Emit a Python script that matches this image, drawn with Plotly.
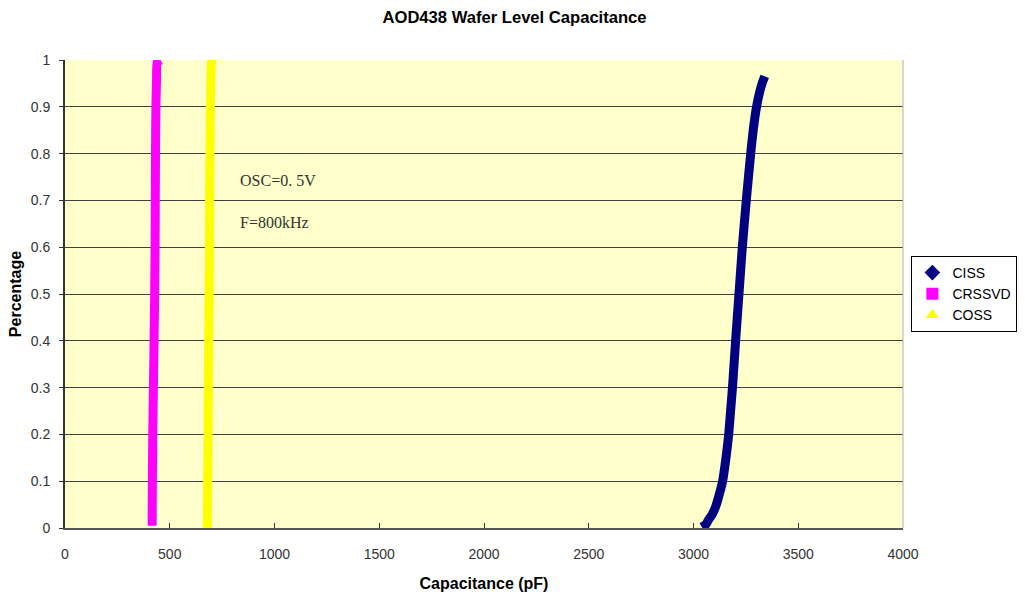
import plotly.graph_objects as go

# CISS
ciss_x = [3040, 3060, 3071, 3088, 3106, 3122, 3139, 3155, 3168, 3177, 3186, 3201,
          3217, 3233, 3252, 3273, 3285, 3301, 3315, 3329, 3340]
ciss_y = [0.002, 0.008, 0.017, 0.028, 0.046, 0.07, 0.10, 0.15, 0.20, 0.25, 0.30, 0.40,
          0.50, 0.60, 0.70, 0.80, 0.85, 0.90, 0.93, 0.952, 0.965]
# CRSSVD
crss_x = [416, 417, 419, 422, 425, 428, 430, 431, 432, 434, 437, 440, 456]
crss_y = [0.005, 0.1, 0.2, 0.3, 0.4, 0.5, 0.6, 0.7, 0.8, 0.9, 0.96, 0.995, 1.0]
# COSS
coss_x = [679, 681, 683, 684, 686, 688, 689, 690, 692, 694, 697, 700]
coss_y = [-0.005, 0.1, 0.2, 0.3, 0.4, 0.5, 0.6, 0.7, 0.8, 0.9, 0.97, 1.0]

series = [
    ("CISS", ciss_x, ciss_y, "#000080", "diamond", 9),
    ("CRSSVD", crss_x, crss_y, "#FF00FF", "square", 9),
    ("COSS", coss_x, coss_y, "#FFFF00", "triangle-up", 9),
]

x_ticks = [0, 500, 1000, 1500, 2000, 2500, 3000, 3500, 4000]
y_ticks = [0, 0.1, 0.2, 0.3, 0.4, 0.5, 0.6, 0.7, 0.8, 0.9, 1]
y_tick_text = ["0", "0.1", "0.2", "0.3", "0.4", "0.5", "0.6", "0.7", "0.8", "0.9", "1"]

fig = go.Figure()
for name, xs, ys, color, sym, w in series:
    fig.add_trace(go.Scatter(x=xs, y=ys, mode="lines",
                             line=dict(color=color, width=w, shape="spline", smoothing=0.5),
                             showlegend=False, legendgroup=name, hoverinfo="x+y", name=name))
for name, xs, ys, color, sym, w in series:
    fig.add_trace(go.Scatter(x=[None], y=[None], mode="markers", name=name, legendgroup=name,
                             marker=dict(color=color, symbol=sym, size=6)))

fig.update_layout(
    width=1025, height=599,
    margin=dict(l=65, r=122, t=60, b=71, autoexpand=False),
    paper_bgcolor="white",
    plot_bgcolor="#FFFFCC",
    font=dict(family="Liberation Sans, Arial, sans-serif", size=13, color="#222"),
    title=dict(text="<b>AOD438 Wafer Level Capacitance</b>", x=0.502, xanchor="center",
               y=0.971, yanchor="middle", font=dict(size=16.6, color="#000")),
    legend=dict(x=1.01, xanchor="left", y=0.5, yanchor="middle",
                bordercolor="#000", borderwidth=1, bgcolor="white",
                font=dict(size=14, color="#000"), tracegroupgap=0, itemsizing="constant",
                itemwidth=30),
    xaxis=dict(range=[0, 4000], tickvals=x_ticks, ticktext=[str(v) for v in x_ticks],
               showgrid=False, zeroline=False, showline=True, linecolor="#555",
               linewidth=2, ticks="inside", ticklen=5, tickcolor="#333",
               ticklabelstandoff=12,
               tickfont=dict(size=14, color="#333"),
               title=dict(text="<b>Capacitance (pF)</b>", font=dict(size=16, color="#000"), standoff=17),
               mirror=False),
    yaxis=dict(range=[0, 1], tickvals=y_ticks, ticktext=y_tick_text,
               showgrid=True, gridcolor="#404040", gridwidth=1,
               zeroline=False, showline=True, linecolor="#333", linewidth=2,
               ticks="outside", ticklen=4, tickcolor="#333",
               ticklabelstandoff=6,
               tickfont=dict(size=14, color="#333"),
               title=dict(text="<b>Percentage</b>", font=dict(size=16, color="#000"), standoff=5)),
)

# right border of plot area
fig.add_shape(type="line", xref="paper", yref="paper", x0=1, x1=1, y0=0, y1=1,
              line=dict(color="#B0B0B0", width=1))

fig.add_annotation(x=0.207, y=0.742, xref="paper", yref="paper", xanchor="left", yanchor="middle",
                   text="OSC=0. 5V", showarrow=False,
                   font=dict(family="Liberation Serif, DejaVu Serif, serif", size=16, color="#333"))
fig.add_annotation(x=0.207, y=0.652, xref="paper", yref="paper", xanchor="left", yanchor="middle",
                   text="F=800kHz", showarrow=False,
                   font=dict(family="Liberation Serif, DejaVu Serif, serif", size=16, color="#333"))

fig.write_html("out.html")
